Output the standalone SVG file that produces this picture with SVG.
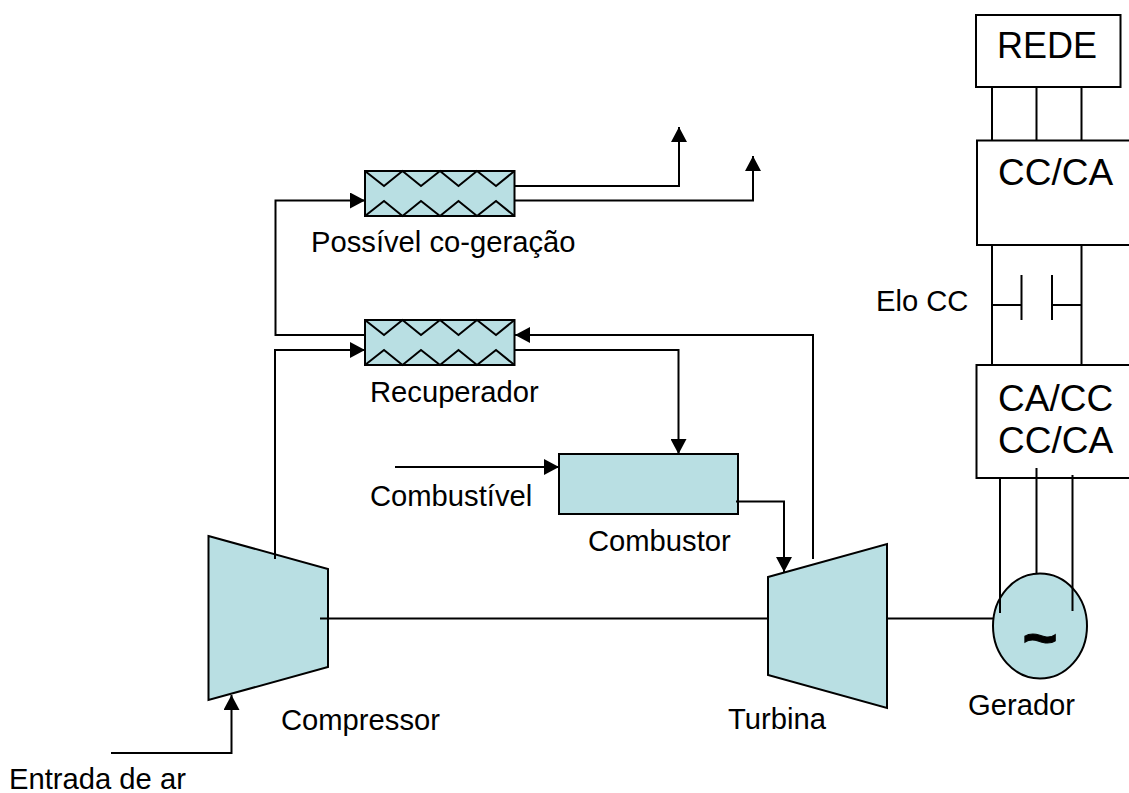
<svg xmlns="http://www.w3.org/2000/svg" width="1129" height="793" viewBox="0 0 1129 793">
<style>
.s{fill:#b9dfe3;stroke:#000;stroke-width:2}
.b{fill:#fff;stroke:#000;stroke-width:2}
.z{fill:none;stroke:#000;stroke-width:2}
.c{fill:none;stroke:#000;stroke-width:2}
.a{marker-end:url(#arrow)}
text{font-family:"Liberation Sans",Arial,sans-serif;fill:#000}
.l{font-size:29.200px}
.h{font-size:37px}
</style>
<defs>
<marker id="arrow" markerUnits="userSpaceOnUse" markerWidth="16" markerHeight="16" viewBox="0 0 16 16" refX="15" refY="8" orient="auto"><path d="M0 0L15 8L0 16Z" fill="#000"/></marker>
</defs>
<rect width="1129" height="793" fill="#fff"/>
<g id="node-compressor"><path class="s" d="M208.500 536L328 569V667L208.500 700Z"/><text class="l" x="281" y="730">Compressor</text></g>
<g id="node-turbina"><path class="s" d="M768 577L887 544V708L768 675Z"/><text class="l" x="728" y="729">Turbina</text></g>
<g id="node-combustor"><rect class="s" x="559" y="454" width="179" height="60"/><text class="l" x="588" y="551">Combustor</text></g>
<g id="node-recuperador"><rect class="s" x="365" y="320" width="149.500" height="45"/><path class="z" d="M365 320L384 335L402.500 320L421 335L440 320L458.500 335L477 320L496 335L514.500 320M365 365L384 350L402.500 365L421 350L440 365L458.500 350L477 365L496 350L514.500 365"/><text class="l" x="370" y="402">Recuperador</text></g>
<g id="node-cogeracao"><rect class="s" x="365" y="171" width="149.500" height="45"/><path class="z" d="M365 171L384 186L402.500 171L421 186L440 171L458.500 186L477 171L496 186L514.500 171M365 216L384 201L402.500 216L421 201L440 216L458.500 201L477 216L496 201L514.500 216"/><text class="l" x="311" y="252">Possível co-geração</text></g>
<g id="node-gerador"><ellipse class="s" cx="1040" cy="626" rx="47" ry="52.500"/><text x="1040" y="658" text-anchor="middle" font-size="60" font-weight="bold" stroke="#000" stroke-width="1">~</text><text class="l" x="968" y="715">Gerador</text></g>
<g id="node-rede"><rect class="b" x="976" y="15" width="144.500" height="72"/><text x="997" y="58" font-size="36">REDE</text></g>
<g id="node-ccca"><rect class="b" x="977" y="140.500" width="154" height="104.500"/><text class="h" x="998" y="185">CC/CA</text></g>
<g id="node-cacc"><rect class="b" x="976.500" y="365" width="154" height="113"/><text class="h" x="998" y="411">CA/CC</text><text class="h" x="998" y="453">CC/CA</text></g>
<g id="connectors">
<path class="c a" d="M111 753H231.500V695"/>
<path class="c a" d="M275 559V350H365"/>
<path class="c a" d="M365 335H275.500V200.500H365"/>
<path class="c a" d="M514.500 186H679V127"/>
<path class="c a" d="M514.500 200.500H753V156"/>
<path class="c a" d="M813 559V335H515"/>
<path class="c a" d="M514.500 350H678.500V454"/>
<path class="c a" d="M395 467H559"/>
<path class="c a" d="M736 501.500H784V572"/>
<path class="c" d="M320 618.500H768M887 618.500H994"/>
<path class="c" d="M992 87V140M1036.500 87V140M1081.500 87V140"/>
<path class="c" d="M992 245V365M1081.500 245V365M992 305H1021.500M1021.500 275V320M1052 275V320M1052 305H1081.500"/>
<path class="c" d="M1000 478V613M1036.500 468V573M1072.500 475V611"/>
</g>
<text id="label-elo" class="l" x="876" y="311">Elo CC</text>
<text id="label-combustivel" class="l" x="370" y="506">Combustível</text>
<text id="label-entrada" class="l" x="9" y="789">Entrada de ar</text>
</svg>
